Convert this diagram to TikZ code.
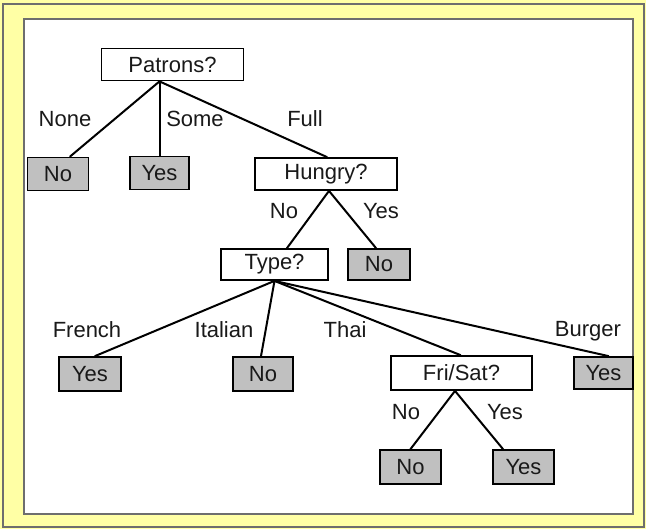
\documentclass[tikz,border=0pt]{standalone}
\usepackage{fontspec}
\setmainfont{Liberation Sans}
\definecolor{bgyellow}{RGB}{255,255,165}
\definecolor{leafgray}{RGB}{192,192,192}
\definecolor{framegray}{RGB}{110,110,110}
\begin{document}
\begin{tikzpicture}[x=1pt,y=-1pt,
  every node/.style={font=\fontsize{22}{26}\selectfont,text=black!90},
  test/.style={draw=black,line width=1.8pt,fill=white,inner sep=0pt,minimum height=32pt},
  leaf/.style={draw=black,line width=1.8pt,fill=leafgray,inner sep=0pt,minimum height=33pt,minimum width=61pt},
  lbl/.style={inner sep=0pt},
  branch/.style={line width=2pt,line cap=round}]
\useasboundingbox (0,0) rectangle (646,529);
\fill[bgyellow] (0,0) rectangle (646,529);
\draw[framegray,line width=1.5pt] (3,4) rectangle (644,527);
\draw[framegray,line width=2pt,fill=white] (24,19) rectangle (633,514);

\node[test,minimum width=142pt] (pat) at (172.5,64.5) {Patrons?};
\node[leaf] (no1) at (58,174) {No};
\node[leaf,minimum width=59pt] (yes1) at (159.5,173) {Yes};
\node[test,minimum width=142pt] (hun) at (326,174) {Hungry?};
\node[test,minimum width=107pt,minimum height=31pt] (typ) at (274.5,264.5) {Type?};
\node[leaf,minimum width=62pt,minimum height=31pt] (no2) at (379,264.5) {No};
\node[leaf,minimum width=62pt,minimum height=34pt] (yes2) at (90,374) {Yes};
\node[leaf,minimum width=60pt,minimum height=34pt] (no3) at (263,374) {No};
\node[test,minimum width=141pt,minimum height=34pt] (fri) at (461.5,373) {Fri/Sat?};
\node[leaf,minimum width=59pt,minimum height=32pt] (yes3) at (603.5,373) {Yes};
\node[leaf,minimum width=61pt,minimum height=34pt] (no4) at (410.5,467) {No};
\node[leaf,minimum width=61pt,minimum height=34pt] (yes4) at (523.5,467) {Yes};

\draw[branch] ([xshift=-13pt]pat.south) -- ([xshift=12pt]no1.north);
\draw[branch] ([xshift=-13pt]pat.south) -- (yes1.north);
\draw[branch] ([xshift=-13pt]pat.south) -- ([xshift=1pt]hun.north);
\draw[branch] ([xshift=3pt]hun.south) -- ([xshift=12.5pt]typ.north);
\draw[branch] ([xshift=3pt]hun.south) -- ([xshift=-3pt]no2.north);
\draw[branch] (typ.south) -- ([xshift=5pt]yes2.north);
\draw[branch] (typ.south) -- ([xshift=-2pt]no3.north);
\draw[branch] (typ.south) -- ([xshift=-1pt]fri.north);
\draw[branch] (typ.south) -- ([xshift=5pt]yes3.north);
\draw[branch] ([xshift=-6.5pt]fri.south) -- (no4.north);
\draw[branch] ([xshift=-6.5pt]fri.south) -- ([xshift=-20.5pt]yes4.north);

\node[lbl] (lnone) at (65,119) {None};
\node[lbl] (lsome) at (195,119) {Some};
\node[lbl] (lfull) at (305,119) {Full};
\node[lbl] (lhno) at (284,211) {No};
\node[lbl] (lhyes) at (381,211) {Yes};
\node[lbl] (lfr) at (87,330) {French};
\node[lbl] (lit) at (224,330) {Italian};
\node[lbl] (lth) at (345,330) {Thai};
\node[lbl] (lbu) at (588,331) {Burger};
\node[lbl] (lfno) at (406,412) {No};
\node[lbl] (lfyes) at (505,412) {Yes};
\end{tikzpicture}
\end{document}
